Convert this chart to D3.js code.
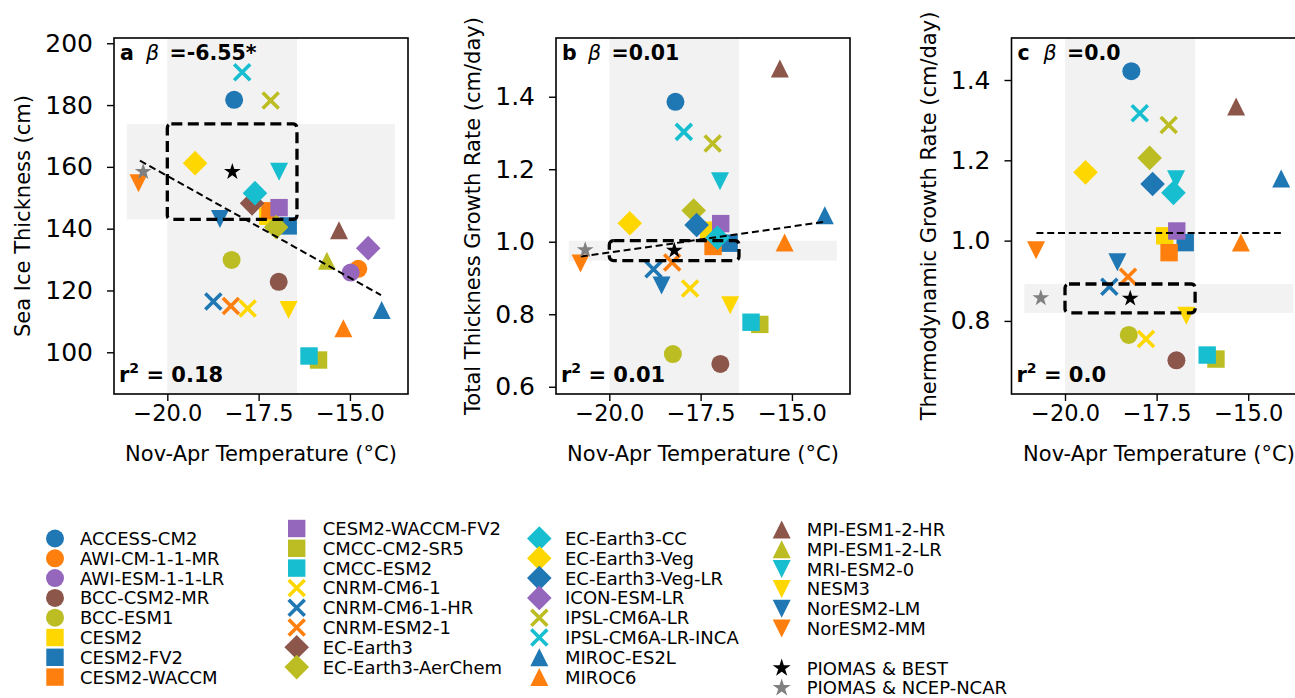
<!DOCTYPE html>
<html><head><meta charset="utf-8">
<script src="https://cdn.jsdelivr.net/npm/d3@7"></script>
<style>
body{margin:0;background:#fff}
svg{display:block}
text{font-family:"DejaVu Sans",sans-serif;fill:#000}
</style>
</head><body>
<svg id="chart" width="1295" height="698"></svg>
<script>
// ---------------- DATA ----------------
const models = ["ACCESS-CM2","AWI-CM-1-1-MR","AWI-ESM-1-1-LR","BCC-CSM2-MR","BCC-ESM1",
  "CESM2","CESM2-FV2","CESM2-WACCM","CESM2-WACCM-FV2","CMCC-CM2-SR5","CMCC-ESM2",
  "CNRM-CM6-1","CNRM-CM6-1-HR","CNRM-ESM2-1","EC-Earth3","EC-Earth3-AerChem",
  "EC-Earth3-CC","EC-Earth3-Veg","EC-Earth3-Veg-LR","ICON-ESM-LR","IPSL-CM6A-LR",
  "IPSL-CM6A-LR-INCA","MIROC-ES2L","MIROC6","MPI-ESM1-2-HR","MPI-ESM1-2-LR",
  "MRI-ESM2-0","NESM3","NorESM2-LM","NorESM2-MM"];
const markerShape = ["circle","circle","circle","circle","circle",
  "square","square","square","square","square","square",
  "x","x","x","diamond","diamond",
  "diamond","diamond","diamond","diamond","x",
  "x","up","up","up","up",
  "down","down","down","down"];
const markerColor = ["#1f77b4","#ff7f0e","#9467bd","#8c564b","#bcbd22",
  "#ffd700","#1f77b4","#ff7f0e","#9467bd","#bcbd22","#17becf",
  "#ffd700","#1f77b4","#ff7f0e","#8c564b","#bcbd22",
  "#17becf","#ffd700","#1f77b4","#9467bd","#bcbd22",
  "#17becf","#1f77b4","#ff7f0e","#8c564b","#bcbd22",
  "#17becf","#ffd700","#1f77b4","#ff7f0e"];

// panel a: Nov-Apr temperature (°C) and sea ice thickness (cm)
const tempA = [-18.17,-14.77,-14.98,-16.95,-18.24,
  -17.25,-16.69,-17.19,-16.94,-15.86,-16.12,
  -17.80,-18.74,-18.26,-17.68,-17.02,
  -17.60,-19.24,null,-14.50,-17.17,
  -17.95,-14.13,-15.18,-15.30,-15.63,
  -16.94,-16.68,-18.56,-20.79];
const thickness = [181.7,127.0,125.8,122.8,129.9,
  144.0,140.9,145.8,146.8,97.5,98.8,
  114.2,116.4,115.0,148.2,140.5,
  151.5,161.2,null,133.7,181.5,
  190.6,113.7,107.8,139.5,129.6,
  158.4,113.7,143.1,154.7];

// panels b, c: Nov-Apr temperature (°C), growth rates (cm/day)
const tempBC = [-18.19,null,null,-16.96,-18.26,
  -17.28,-16.72,-17.16,-16.95,-15.88,-16.12,
  -17.79,-18.79,-18.28,null,-17.69,
  -17.04,-19.44,-17.61,null,-17.17,
  -17.96,-14.10,-15.20,-15.33,null,
  -16.97,-16.69,-18.57,-20.79];
const totalGrowth = [1.386,null,null,0.663,0.690,
  1.032,0.996,0.987,1.050,0.772,0.778,
  0.871,0.924,0.943,null,1.086,
  1.011,1.051,1.046,null,1.271,
  1.303,1.073,0.998,1.478,null,
  1.167,0.825,0.879,0.940];
const thermoGrowth = [1.422,null,null,0.702,0.765,
  1.012,0.995,0.970,1.024,0.705,0.715,
  0.755,0.885,0.910,null,1.206,
  1.119,1.170,1.141,null,1.288,
  1.317,1.155,0.995,1.334,null,
  1.153,0.813,0.946,0.976];

// observations
const obsNames = ["PIOMAS & BEST","PIOMAS & NCEP-NCAR"];
const obsColor = ["#000000","#808080"];
const obsTemp = [-18.22,-20.66];
const obsThickness = [158.4,158.4];
const obsTotalGrowth = [0.976,0.977];
const obsThermoGrowth = [0.856,0.857];

// uncertainty bands
const tempBand = [-20.0,-16.45];
const hBandTemp = [-21.11,-13.77];
const thicknessBand = [143.0,173.9];
const totalBand = [0.948,1.003];
const thermoBand = [0.820,0.892];

// regression lines (end points)
const fitTempA = [-20.75,-14.15], fitThickness = [162.0,118.5];
const fitTempB = [-20.78,-14.10], fitTotal = [0.959,1.055];
const fitTempC = [-20.78,-14.11], fitThermo = [1.019,1.019];

// annotations
const panelLetters = ["a","b","c"];
const betaText = ["=-6.55*","=0.01","=0.0"];
const r2Text = ["0.18","0.01","0.0"];
const yLabels = ["Sea Ice Thickness (cm)","Total Thickness Growth Rate (cm/day)","Thermodynamic Growth Rate (cm/day)"];
const xLabel = "Nov-Apr Temperature (°C)";

// ticks
const xTicks = [-20.0,-17.5,-15.0];
const yTicksA = [100,120,140,160,180,200];
const yTicksB = [0.6,0.8,1.0,1.2,1.4];
const yTicksC = [0.8,1.0,1.2,1.4];

// ---------------- DRAW ----------------
const svg = d3.select("#chart");
const TOP = 38, BOTTOM = 394;
const xDomain = [-21.46,-13.41];

const panels = [
  {left:114, right:408, yDomain:[86.5,201.7], temp:tempA, vals:thickness, ticks:yTicksA, fmt:d3.format("d"),
   band:thicknessBand, obs:obsThickness, fitX:fitTempA, fitY:fitThickness, ylabOff:-84},
  {left:556, right:850, yDomain:[0.580,1.562], temp:tempBC, vals:totalGrowth, ticks:yTicksB, fmt:d3.format(".1f"),
   band:totalBand, obs:obsTotalGrowth, fitX:fitTempB, fitY:fitTotal, ylabOff:-76},
  {left:1011.5, right:1306.5, yDomain:[0.618,1.5046], temp:tempBC, vals:thermoGrowth, ticks:yTicksC, fmt:d3.format(".1f"),
   band:thermoBand, obs:obsThermoGrowth, fitX:fitTempC, fitY:fitThermo, ylabOff:-75.5}
];

function starPath(R){
  const p = d3.path(); const r = R*0.382;
  for(let i=0;i<10;i++){
    const a = -Math.PI/2 + i*Math.PI/5; const rr = i%2===0?R:r;
    const x = rr*Math.cos(a), y = rr*Math.sin(a);
    if(i===0) p.moveTo(x,y); else p.lineTo(x,y);
  }
  p.closePath(); return p.toString();
}
function drawMarker(g, shape, color, cx, cy, legend){
  const t = `translate(${cx},${cy})`;
  if(shape==="circle"){
    g.append("circle").attr("cx",cx).attr("cy",cy).attr("r",9).attr("fill",color);
  } else if(shape==="square"){
    g.append("rect").attr("x",cx-8.7).attr("y",cy-8.7).attr("width",17.4).attr("height",17.4).attr("fill",color);
  } else if(shape==="diamond"){
    const h = 12.3;
    g.append("path").attr("transform",t).attr("d",`M0,${-h}L${h},0L0,${h}L${-h},0Z`).attr("fill",color);
  } else if(shape==="up"){
    g.append("path").attr("transform",t).attr("d","M0,-9L9,9L-9,9Z").attr("fill",color);
  } else if(shape==="down"){
    g.append("path").attr("transform",t).attr("d","M0,9L9,-9L-9,-9Z").attr("fill",color);
  } else if(shape==="x"){
    g.append("path").attr("transform",t).attr("d","M-8,-8L8,8M-8,8L8,-8")
      .attr("stroke",color).attr("stroke-width",3.6).attr("fill","none");
  } else if(shape==="star"){
    g.append("path").attr("transform",t).attr("d",starPath(legend?9.5:8.8)).attr("fill",color);
  }
}

panels.forEach((P,pi)=>{
  const x = d3.scaleLinear().domain(xDomain).range([P.left,P.right]);
  const y = d3.scaleLinear().domain(P.yDomain).range([BOTTOM,TOP]);
  const g = svg.append("g");

  // bands
  g.append("rect").attr("x",x(tempBand[0])).attr("y",TOP)
    .attr("width",x(tempBand[1])-x(tempBand[0])).attr("height",BOTTOM-TOP).attr("fill","#f2f2f2");
  g.append("rect").attr("x",x(hBandTemp[0])).attr("y",y(P.band[1]))
    .attr("width",x(hBandTemp[1])-x(hBandTemp[0])).attr("height",y(P.band[0])-y(P.band[1])).attr("fill","#f2f2f2");

  // model markers
  const mg = g.append("g");
  models.forEach((m,i)=>{
    if(P.temp[i]==null || P.vals[i]==null) return;
    drawMarker(mg, markerShape[i], markerColor[i], x(P.temp[i]), y(P.vals[i]));
  });

  // dashed box
  g.append("rect").attr("x",x(tempBand[0])).attr("y",y(P.band[1]))
    .attr("width",x(tempBand[1])-x(tempBand[0])).attr("height",y(P.band[0])-y(P.band[1]))
    .attr("rx",4).attr("fill","none").attr("stroke","#000").attr("stroke-width",3.3)
    .attr("stroke-dasharray","11,5.5");

  // regression line
  g.append("line").attr("x1",x(P.fitX[0])).attr("y1",y(P.fitY[0]))
    .attr("x2",x(P.fitX[1])).attr("y2",y(P.fitY[1]))
    .attr("stroke","#000").attr("stroke-width",2).attr("stroke-dasharray","7,3.8");

  // observation stars
  obsNames.forEach((o,i)=>{
    drawMarker(g,"star",obsColor[i],x(obsTemp[i]),y(P.obs[i]));
  });

  // frame
  g.append("rect").attr("x",P.left).attr("y",TOP).attr("width",P.right-P.left).attr("height",BOTTOM-TOP)
    .attr("fill","none").attr("stroke","#000").attr("stroke-width",1.6);

  // axes
  const xa = g.append("g").attr("transform",`translate(0,${BOTTOM})`)
    .call(d3.axisBottom(x).tickValues(xTicks).tickFormat(d3.format(".1f")).tickSize(7).tickPadding(4));
  xa.select(".domain").remove();
  xa.selectAll("line").attr("stroke","#000").attr("stroke-width",1.4);
  xa.selectAll("text").attr("font-size",22.5).attr("font-family","DejaVu Sans").attr("fill","#000");

  const ya = g.append("g").attr("transform",`translate(${P.left},0)`)
    .call(d3.axisLeft(y).tickValues(P.ticks).tickFormat(P.fmt).tickSize(7).tickPadding(14));
  ya.select(".domain").remove();
  ya.selectAll("line").attr("stroke","#000").attr("stroke-width",1.4);
  ya.selectAll("text").attr("font-size",25).attr("font-family","DejaVu Sans").attr("fill","#000");

  // axis labels
  g.append("text").attr("x",(P.left+P.right)/2).attr("y",461).attr("text-anchor","middle")
    .attr("font-size",21).text(xLabel);
  g.append("text").attr("transform",`translate(${P.left+P.ylabOff},${(TOP+BOTTOM)/2}) rotate(-90)`)
    .attr("text-anchor","middle").attr("font-size",21).text(yLabels[pi]);

  // annotations
  const t1 = g.append("text").attr("y",59.5).attr("font-size",20.5);
  t1.append("tspan").attr("x",P.left+6).attr("font-weight","bold").text(panelLetters[pi]);
  t1.append("tspan").attr("x",P.left+32).attr("font-style","italic").text("β");
  t1.append("tspan").attr("x",P.left+55.5).attr("font-weight","bold").text(betaText[pi]);

  const t2 = g.append("text").attr("y",382).attr("font-size",21).attr("font-weight","bold");
  t2.append("tspan").attr("x",P.left+5).text("r");
  t2.append("tspan").attr("font-size",14).attr("dy",-9).text("2");
  t2.append("tspan").attr("dy",9).text(" = "+r2Text[pi]);
});

// ---------------- LEGEND ----------------
const legCols = [
  {mx:55, tx:80, y0:538.5},
  {mx:296.7, tx:322.7, y0:528.5},
  {mx:539.3, tx:565, y0:538.5},
  {mx:781.7, tx:806.7, y0:529.5}
];
const rowH = 19.8;
const lg = svg.append("g");
models.forEach((m,i)=>{
  const c = Math.floor(i/8), r = i%8;
  const C = legCols[c]; const cy = C.y0 + r*rowH;
  drawMarker(lg, markerShape[i], markerColor[i], C.mx, cy, true);
  lg.append("text").attr("x",C.tx).attr("y",cy+6.4).attr("font-size",18).text(m);
});
obsNames.forEach((o,i)=>{
  const C = legCols[3]; const cy = C.y0 + (7+i)*rowH;
  drawMarker(lg,"star",obsColor[i],C.mx,cy,true);
  lg.append("text").attr("x",C.tx).attr("y",cy+6.4).attr("font-size",18).text(o);
});
</script>
</body></html>
